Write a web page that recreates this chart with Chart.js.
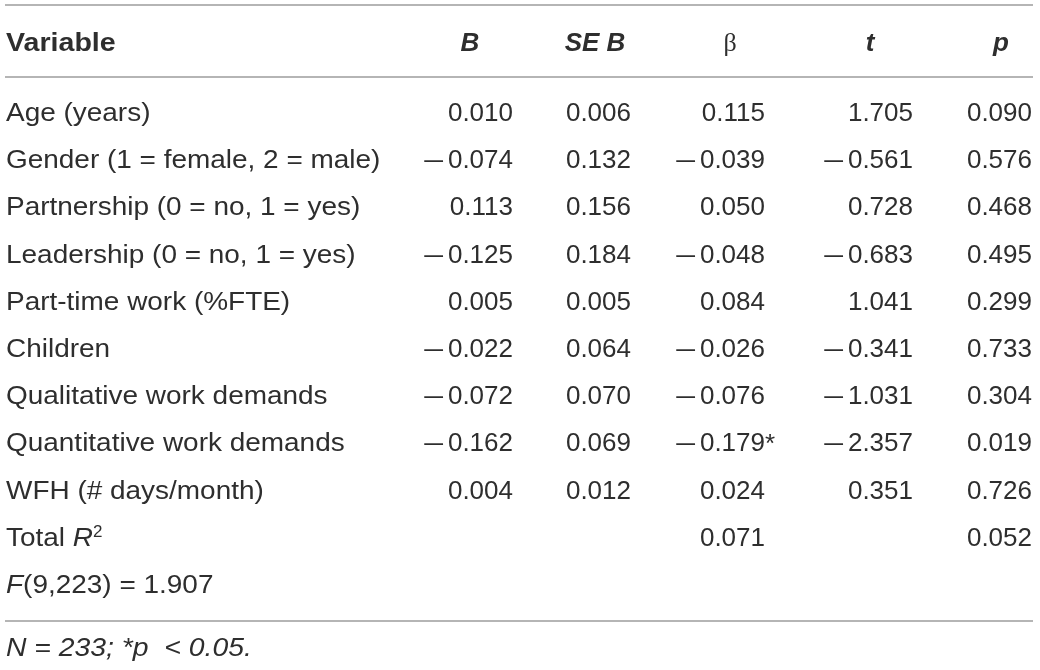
<!DOCTYPE html>
<html>
<head>
<meta charset="utf-8">
<script src="https://cdn.jsdelivr.net/npm/chart.js@4.4.1/dist/chart.umd.min.js"></script>
<style>
  html, body { margin: 0; padding: 0; background: #fff; }
  #wrap { width: 1040px; height: 670px; }
</style>
</head>
<body>
<div id="wrap"><canvas id="regTable"></canvas></div>
<script>
// table data
var variables = [
  'Age (years)',
  'Gender (1 = female, 2 = male)',
  'Partnership (0 = no, 1 = yes)',
  'Leadership (0 = no, 1 = yes)',
  'Part-time work (%FTE)',
  'Children',
  'Qualitative work demands',
  'Quantitative work demands',
  'WFH (# days/month)'
];
var bValues   = [0.010, -0.074, 0.113, -0.125, 0.005, -0.022, -0.072, -0.162, 0.004];
var seBValues = [0.006, 0.132, 0.156, 0.184, 0.005, 0.064, 0.070, 0.069, 0.012];
var betaValues = [0.115, -0.039, 0.050, -0.048, 0.084, -0.026, -0.076, -0.179, 0.024];
var betaSignificant = [false, false, false, false, false, false, false, true, false];
var tValues   = [1.705, -0.561, 0.728, -0.683, 1.041, -0.341, -1.031, -2.357, 0.351];
var pValues   = [0.090, 0.576, 0.468, 0.495, 0.299, 0.733, 0.304, 0.019, 0.726];
var totalR2 = 0.071;
var totalR2p = 0.052;
var fDegrees = [9, 223];
var fValue = 1.907;
var sampleN = 233;
var alphaLevel = 0.05;

// layout (not data)
var FONT = '"Liberation Sans", Arial, sans-serif';
var SERIF = '"Liberation Serif", "DejaVu Serif", serif';
var SIZE = 26;
var TEXT_COLOR = '#2e2e2e';
var RULE_COLOR = '#9c9c9c';
var LABEL_SX = 1.075;       // the original face is a bit wider than Arial
var BASE_DY = 9;            // baseline below row centre
var colAnchor = [6, 513, 631, 765, 913, 1032];      // left edge for col 0, right edges for numbers
var headAnchor = [6, 470, 595, 730, 870, 1001];     // header centres
var HEADER_Y = -1.483, FOOT_Y = 11.335;
var ruleRows = [-2.267, -0.742, 10.784];
var RULE_X = [5, 1033];

function f(style) { return (style ? style + ' ' : '') + SIZE + 'px ' + FONT; }
function reg(text, sx) { return { text: text, font: f(''), sx: sx || 1 }; }
function italic(text, sx) { return { text: text, font: f('italic'), sx: sx || 1 }; }

// number runs: a long thin dash for the minus, then the digits
function num(v) {
  var runs = [];
  if (v < 0) runs.push({ text: '\u2013', font: f(''), sx: 1.3, dy: 0, extra: 5 });
  runs.push(reg(Math.abs(v).toFixed(3)));
  return runs;
}

var cells = [];
function addCell(col, row, runs, align) {
  cells.push({ x: colAnchor[col], y: row, runs: runs, align: align || 'right' });
}

// header
var headerRuns = [
  [{ text: 'Variable', font: f('bold'), sx: 1.1 }],
  [{ text: 'B', font: f('italic bold') }],
  [{ text: 'SE B', font: f('italic bold') }],
  [{ text: '\u03b2', font: SIZE + 'px ' + SERIF }],
  [{ text: 't', font: f('italic bold') }],
  [{ text: 'p', font: f('italic bold') }]
];
headerRuns.forEach(function (runs, c) {
  cells.push({ x: headAnchor[c], y: HEADER_Y, runs: runs, align: c === 0 ? 'left' : 'center' });
});

// body
variables.forEach(function (name, i) {
  addCell(0, i, [reg(name, LABEL_SX)], 'left');
  addCell(1, i, num(bValues[i]));
  addCell(2, i, num(seBValues[i]));
  var br = num(betaValues[i]);
  if (betaSignificant[i]) br.push({ text: '*', font: f(''), dy: 1, hang: true });
  addCell(3, i, br);
  addCell(4, i, num(tValues[i]));
  addCell(5, i, num(pValues[i]));
});

var r2Row = variables.length;
addCell(0, r2Row, [reg('Total ', LABEL_SX), italic('R', LABEL_SX), { text: '2', font: '17px ' + FONT, dy: -9 }], 'left');
addCell(3, r2Row, num(totalR2));
addCell(5, r2Row, num(totalR2p));

var fRow = variables.length + 1;
addCell(0, fRow, [italic('F', LABEL_SX), reg('(' + fDegrees[0] + ',' + fDegrees[1] + ') = ' + fValue.toFixed(3), LABEL_SX)], 'left');

addCell(0, FOOT_Y, [italic('N = ' + sampleN + '; *p  < ' + alphaLevel.toFixed(2) + '.', 1.09)], 'left');

var ruleSets = ruleRows.map(function (ry) {
  return {
    type: 'line',
    data: [{ x: RULE_X[0], y: ry }, { x: RULE_X[1], y: ry }],
    borderColor: RULE_COLOR,
    borderWidth: 1.5,
    pointRadius: 0
  };
});

var cellText = {
  id: 'cellText',
  afterDatasetsDraw: function (chart) {
    var ctx = chart.ctx;
    chart.data.datasets.forEach(function (ds, di) {
      if (!ds.isCells) return;
      var meta = chart.getDatasetMeta(di);
      meta.data.forEach(function (el, j) {
        var cell = ds.data[j];
        ctx.save();
        ctx.fillStyle = TEXT_COLOR;
        ctx.textBaseline = 'alphabetic';
        ctx.textAlign = 'left';
        var w = 0;
        cell.runs.forEach(function (r) {
          ctx.font = r.font;
          r.w = ctx.measureText(r.text).width * (r.sx || 1) + (r.extra || 0);
          if (!r.hang) w += r.w;
        });
        var x = el.x;
        if (cell.align === 'right') x -= w;
        else if (cell.align === 'center') x -= w / 2;
        cell.runs.forEach(function (r) {
          ctx.save();
          ctx.font = r.font;
          ctx.translate(x, el.y + BASE_DY + (r.dy || 0));
          ctx.scale(r.sx || 1, 1);
          ctx.fillText(r.text, 0, 0);
          ctx.restore();
          x += r.w;
        });
        ctx.restore();
      });
    });
  }
};

new Chart(document.getElementById('regTable'), {
  type: 'scatter',
  data: {
    datasets: [{
      isCells: true,
      data: cells,
      pointRadius: 0,
      pointHoverRadius: 0
    }].concat(ruleSets)
  },
  options: {
    responsive: true,
    maintainAspectRatio: false,
    animation: false,
    events: [],
    layout: { padding: 0 },
    plugins: { legend: { display: false }, tooltip: { enabled: false } },
    scales: {
      x: { type: 'linear', display: false, min: 0, max: 1040 },
      y: { type: 'linear', display: false, reverse: true, min: -2.373, max: 11.822 }
    }
  },
  plugins: [cellText]
});
</script>
</body>
</html>
